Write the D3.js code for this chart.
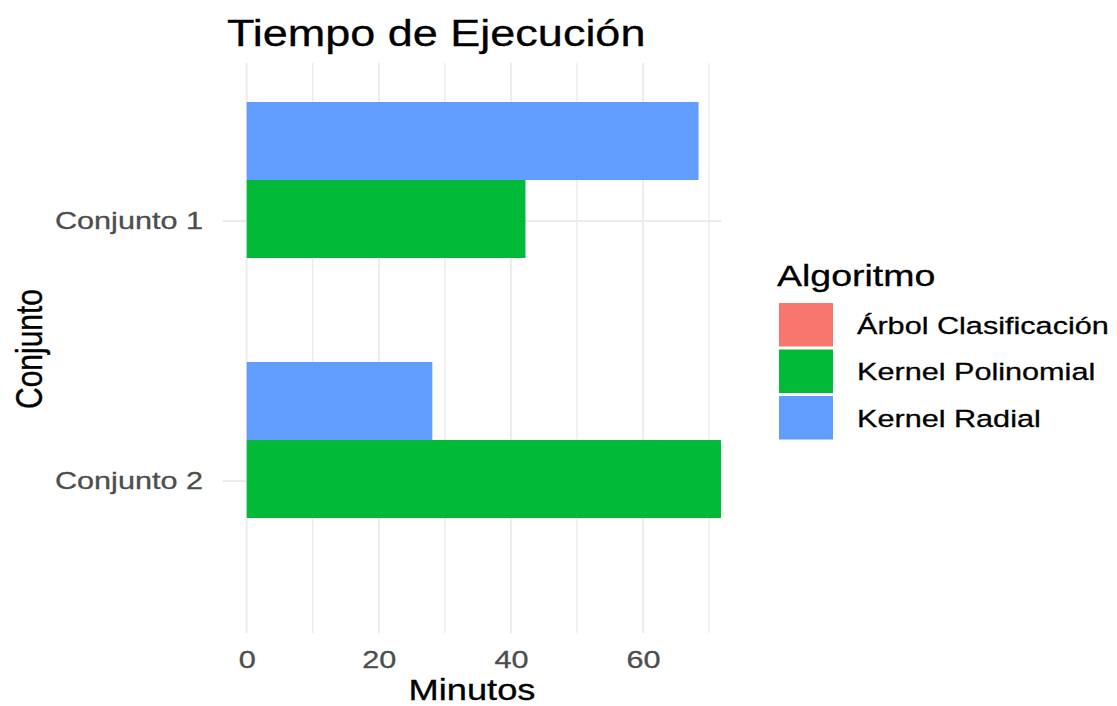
<!DOCTYPE html>
<html>
<head>
<meta charset="utf-8">
<script src="https://cdn.jsdelivr.net/npm/d3@7"></script>
<style>
  body { margin: 0; background: white; }
  text { font-family: "Liberation Sans", Arial, sans-serif; }
</style>
</head>
<body>
<div id="chart"></div>
<script>
var width = 1117
var height = 706
var panel = {left: 223, right: 721, top: 63, bottom: 635}
var stretch = 1.25   // the reference is a little wide, text gets widened with it

// Data

var conjuntos = ["Conjunto 1", "Conjunto 2"];
var algoritmos = ["Árbol Clasificación", "Kernel Polinomial", "Kernel Radial"];
var arbol = [0, 0];
var polinomial = [42.2, 71.8];
var radial = [68.4, 28.1];
var xTicks = [0, 20, 40, 60];
var xGrid = [0, 10, 20, 30, 40, 50, 60, 70];
var colores = ["#F8766D", "#00BA38", "#619CFF"];

var series = [arbol, polinomial, radial];
var rows = [];
conjuntos.forEach(function(c, i) {
    algoritmos.forEach(function(a, j) {
        rows.push({conjunto: c, algoritmo: a, valor: series[j][i]});
    });
});

var xMax = d3.max(rows, function(d) { return d.valor; });

var x_scale = d3.scaleLinear()
    .domain([-0.05 * xMax, xMax])
    .range([panel.left, panel.right]);

var y_scale = d3.scalePoint()
    .domain(conjuntos)
    .range([panel.top, panel.bottom])
    .padding(0.6);

var step = y_scale.step();

// Radial on top, arbol at the bottom of each group
var dodge = d3.scaleBand()
    .domain(algoritmos.slice().reverse())
    .range([-0.45 * step, 0.45 * step]);

var c_scale = d3.scaleOrdinal()
    .domain(algoritmos)
    .range(colores);

var svg = d3.select("#chart")
    .append('svg')
    .attr('width', width)
    .attr('height', height)
    .style("background-color", "white")

// Grid

svg.append("g")
    .selectAll("line")
    .data(xGrid)
    .enter()
    .append("line")
    .attr("x1", function(d) { return x_scale(d); })
    .attr("x2", function(d) { return x_scale(d); })
    .attr("y1", panel.top)
    .attr("y2", panel.bottom - 2)
    .attr("stroke", "#EBEBEB")
    .attr("stroke-width", function(d) { return d % 20 == 0 ? 1.8 : 1.4; });

svg.append("g")
    .selectAll("line")
    .data(conjuntos)
    .enter()
    .append("line")
    .attr("x1", panel.left)
    .attr("x2", panel.right)
    .attr("y1", function(d) { return y_scale(d) + 2; })
    .attr("y2", function(d) { return y_scale(d) + 2; })
    .attr("stroke", "#EBEBEB")
    .attr("stroke-width", 1.8);

// Bars

svg.append("g")
    .selectAll("rect")
    .data(rows)
    .enter()
    .append("rect")
    .attr("x", x_scale(0))
    .attr("y", function(d) { return y_scale(d.conjunto) + dodge(d.algoritmo); })
    .attr("width", function(d) { return x_scale(d.valor) - x_scale(0); })
    .attr("height", dodge.bandwidth())
    .style("fill", function(d) { return c_scale(d.algoritmo); });

// Axes

var xAxis = d3.axisBottom(x_scale).tickValues(xTicks).tickSize(0).tickPadding(18);
var yAxis = d3.axisLeft(y_scale).tickSize(0).tickPadding(16);

var gx = svg.append("g")
    .attr("transform", "translate(0," + (panel.bottom - 2) + ")")
    .call(xAxis);

var gy = svg.append("g")
    .attr("transform", "translate(" + panel.left + ",2)")
    .call(yAxis);

[gx, gy].forEach(function(g) {
    g.select(".domain").remove();
    g.selectAll("text")
        .attr("fill", "#4D4D4D")
        .style("font-size", "24.5px")
        .attr("stroke", "#4D4D4D")
        .attr("stroke-width", 0.3)
        .attr("transform", "scale(" + stretch + ",1)");
});

// Titles

function label(x, y, txt, size, anchor, rot) {
    return svg.append("text")
        .attr("transform", "translate(" + x + "," + y + ") scale(" + stretch + ",1)" + (rot ? " rotate(" + rot + ")" : ""))
        .attr("text-anchor", anchor)
        .style("font-size", size + "px")
        .attr("fill", "black")
        .attr("stroke", "black")
        .attr("stroke-width", 0.3)
        .text(txt);
}

label(227, 46, "Tiempo de Ejecución", 36, "start");
label((panel.left + panel.right) / 2, 700, "Minutos", 29, "middle");
label(42, 349, "Conjunto", 30, "middle", -90);

// Legend

var legend = svg.append("g").attr("transform", "translate(779,303)");

label(777, 286, "Algoritmo", 30, "start");

var keys = legend.selectAll("g")
    .data(algoritmos)
    .enter()
    .append("g")
    .attr("transform", function(d, i) { return "translate(0," + (i * 46.5) + ")"; });

keys.append("rect")
    .attr("width", 54)
    .attr("height", 43.5)
    .style("fill", function(d) { return c_scale(d); });

keys.append("text")
    .attr("transform", "translate(78,22) scale(" + stretch + ",1)")
    .attr("dy", "0.35em")
    .style("font-size", "24.5px")
    .attr("fill", "black")
    .attr("stroke", "black")
    .attr("stroke-width", 0.3)
    .text(function(d) { return d; });
</script>
</body>
</html>
